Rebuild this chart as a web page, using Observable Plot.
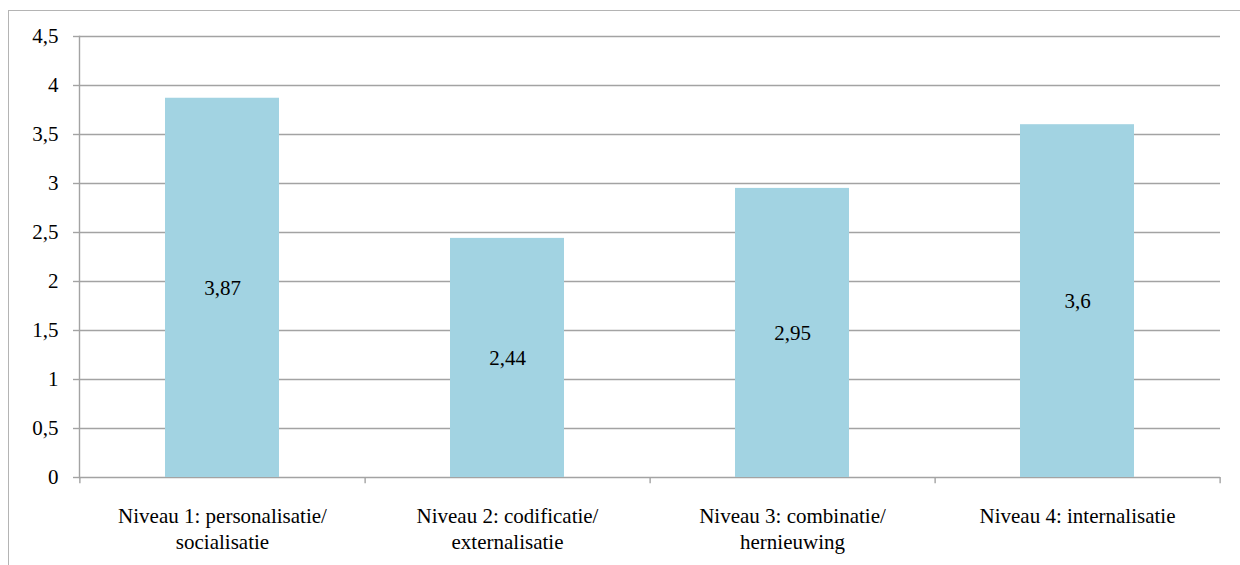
<!DOCTYPE html>
<html>
<head>
<meta charset="utf-8">
<script src="https://cdn.jsdelivr.net/npm/d3@7"></script>
<script src="https://cdn.jsdelivr.net/npm/@observablehq/plot@0.6"></script>
<style>
  body { margin: 0; background: #fff; }
  #chart { position: relative; width: 1240px; height: 565px; overflow: hidden; background: #fff; }
  #border { position: absolute; left: 8px; top: 10px; width: 1300px; height: 700px; border: 1.5px solid #b4b4b4; box-sizing: border-box; }
  #chart svg { position: absolute; left: 0; top: 0; }
</style>
</head>
<body>
<div id="chart"><div id="border"></div></div>
<script>
// Knowledge-management levels and their mean scores
const categories = ["Niveau 1", "Niveau 2", "Niveau 3", "Niveau 4"];
const categoryLabels = [
  "Niveau 1: personalisatie/\nsocialisatie",
  "Niveau 2: codificatie/\nexternalisatie",
  "Niveau 3: combinatie/\nhernieuwing",
  "Niveau 4: internalisatie"
];
const scores = [3.87, 2.44, 2.95, 3.6];
const yTicks = [0, 0.5, 1, 1.5, 2, 2.5, 3, 3.5, 4, 4.5];

const data = categories.map((c, i) => ({category: c, score: scores[i]}));
const comma = d => String(d).replace(".", ",");

const width = 1240, height = 565;
const marginLeft = 79, marginRight = 20, marginTop = 36, marginBottom = 88;
const halfStep = (width - marginLeft - marginRight) / categories.length / 2;
const gray = "#a3a3a3";
const font = "'Liberation Serif', 'Times New Roman', serif";

const chart = Plot.plot({
  width, height, marginLeft, marginRight, marginTop, marginBottom,
  style: {fontFamily: font, fontSize: "21px", color: "#000", background: "transparent", overflow: "visible"},
  x: {domain: categories, paddingInner: 0.6, paddingOuter: 0.3, label: null},
  y: {domain: [0, 4.5], label: null},
  marks: [
    Plot.gridY(yTicks, {stroke: gray, strokeOpacity: 1, strokeWidth: 1.4}),
    Plot.frame({anchor: "left", stroke: gray, strokeWidth: 1.4}),
    // small category separators below the baseline
    Plot.ruleX(categories, {x: d => d, y1: 0, y2: -0.065, dx: halfStep, stroke: gray, strokeWidth: 1.4}),
    Plot.ruleX(categories.slice(0, 1), {x: d => d, y1: 0, y2: -0.065, dx: -halfStep, stroke: gray, strokeWidth: 1.4}),
    Plot.axisY(yTicks, {tickSize: 6, tickPadding: 15, tickFormat: comma, stroke: gray, strokeWidth: 1.4, fontSize: 21, fontFamily: font}),
    Plot.barY(data, {x: "category", y: "score", fill: "#a2d3e2", style: "filter: drop-shadow(1px 0px 1.5px rgba(0,0,0,0.18))"}),
    Plot.text(data, {x: "category", y: d => d.score / 2, text: d => comma(d.score), fontSize: 21, fontFamily: font, fill: "#000"}),
    Plot.axisX({tickSize: 0, tickPadding: 27, tickFormat: (d, i) => categoryLabels[i], lineHeight: 1.24, fontSize: 21, fontFamily: font})
  ]
});
document.getElementById("chart").appendChild(chart);
</script>
</body>
</html>
